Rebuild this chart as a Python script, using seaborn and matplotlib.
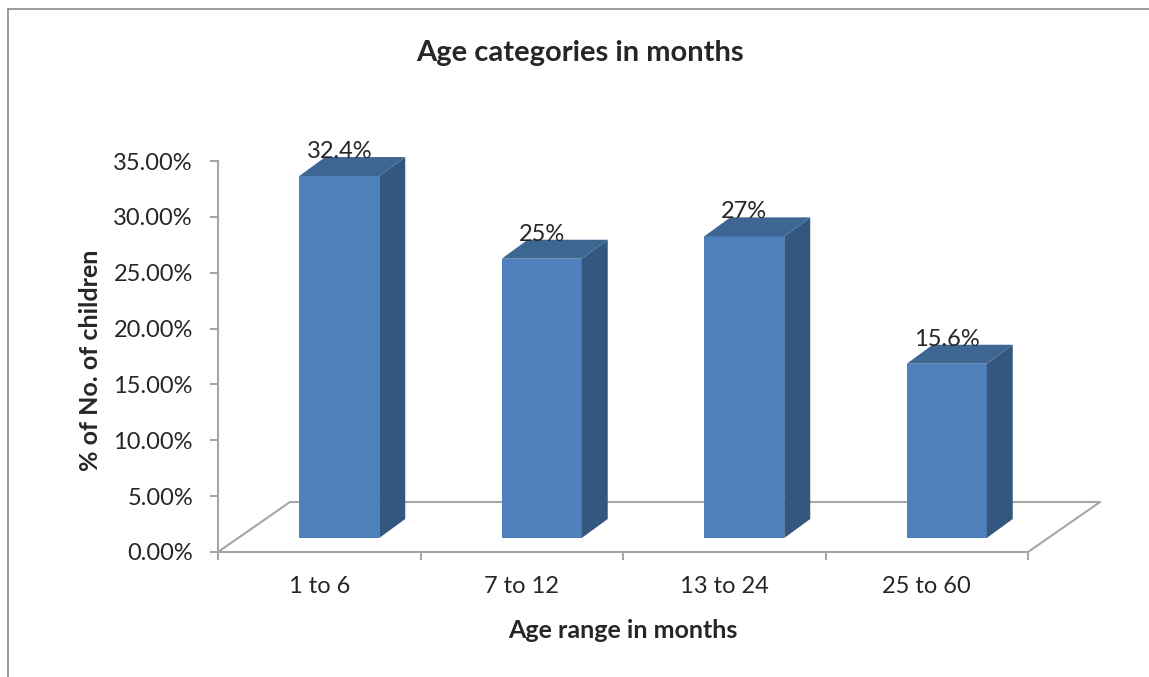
import numpy as np
import pandas as pd
import seaborn as sns
import matplotlib.pyplot as plt
from matplotlib.patches import Polygon
from matplotlib.lines import Line2D
from matplotlib.transforms import IdentityTransform

# data
age_ranges = ["1 to 6", "7 to 12", "13 to 24", "25 to 60"]
pct_children = [32.4, 25.0, 27.0, 15.6]
bar_labels = ["32.4%", "25%", "27%", "15.6%"]
y_ticks = [0, 5, 10, 15, 20, 25, 30, 35]

df = pd.DataFrame({"age": age_ranges, "pct": pct_children})

sns.set_style("white")
plt.rcParams["font.family"] = ["Lato", "DejaVu Sans"]

W, H = 1149, 677
fig = plt.figure(figsize=(W / 100, H / 100), dpi=100)

# main axes (floor, ticks), pixel box 218..1028 x 161..552
left, right, top, bottom = 218, 1028, 161, 552
ax = fig.add_axes([left / W, 1 - bottom / H, (right - left) / W, (bottom - top) / H])
ax.set_xlim(-0.5, 3.5)
ax.set_ylim(0, 35)
for s in ["top", "right"]:
    ax.spines[s].set_visible(False)
grey = "#a6a6a6"
ax.spines["left"].set_color(grey)
ax.spines["bottom"].set_color(grey)
ax.spines["left"].set_linewidth(1.5)
ax.spines["bottom"].set_linewidth(1.5)
ax.set_yticks(y_ticks)
ax.set_yticklabels([f"{t:.2f}%" for t in y_ticks])
ax.set_xticks(range(len(age_ranges)))
ax.set_xticklabels(age_ranges)
ax.set_xticks(np.arange(-0.5, 4, 1), minor=True)
ax.tick_params(axis="y", length=6, width=1.5, color=grey, pad=12, labelsize=17, left=True)
ax.tick_params(axis="x", which="major", length=0, pad=17, labelsize=17)
ax.tick_params(axis="x", which="minor", length=6, width=1.5, color=grey, bottom=True)
ax.patch.set_alpha(0)

# floor depth offset (pixels)
fdx, fdy = 72, 50
fl = ax.transData.transform([(-0.5, 0), (3.5, 0)])
floor = [(fl[0][0], fl[0][1]), (fl[0][0] + fdx, fl[0][1] + fdy),
         (fl[1][0] + fdx, fl[1][1] + fdy), (fl[1][0], fl[1][1])]
ax.add_line(Line2D([p[0] for p in floor], [p[1] for p in floor], color=grey,
                   lw=1.5, transform=IdentityTransform(), clip_on=False))

# bars axes, shifted into the depth of the floor
bdx, bdy = 20, 14
ax2 = fig.add_axes([(left + bdx) / W, 1 - (bottom - bdy) / H, (right - left) / W, (bottom - top) / H])
sns.barplot(data=df, x="age", y="pct", ax=ax2, color="#4F81BD", width=0.395,
            saturation=1, edgecolor="none", linewidth=0)
ax2.set_xlim(-0.5, 3.5)
ax2.set_ylim(0, 35)
ax2.axis("off")
ax2.patch.set_alpha(0)

sdx, sdy = 26, 19
for p, lab in zip(ax2.patches, bar_labels):
    x0, y0 = p.get_x(), p.get_y()
    x1, y1 = x0 + p.get_width(), y0 + p.get_height()
    (px0, py0), (px1, py1) = ax2.transData.transform([(x0, y0), (x1, y1)])
    side = [(px1, py0), (px1 + sdx, py0 + sdy), (px1 + sdx, py1 + sdy), (px1, py1)]
    topf = [(px0, py1), (px0 + sdx, py1 + sdy), (px1 + sdx, py1 + sdy), (px1, py1)]
    ax2.add_patch(Polygon(side, closed=True, fc="#34577F", ec="none",
                          transform=IdentityTransform(), clip_on=False))
    ax2.add_patch(Polygon(topf, closed=True, fc="#3E6693", ec="none",
                          transform=IdentityTransform(), clip_on=False))
    ax2.annotate(lab, (x0 + p.get_width() / 2, y1), xytext=(0, 14),
                 textcoords="offset pixels", ha="center", va="bottom",
                 fontsize=17, annotation_clip=False)

ax.set_xlabel("")
ax.set_ylabel("")
fig.text(580 / W, 1 - 53 / H, "Age categories in months", ha="center", va="center",
         fontsize=21, fontweight="bold")
fig.text(90 / W, 1 - 360 / H, "% of No. of children", ha="center", va="center",
         rotation=90, fontsize=18, fontweight="bold")
fig.text(623 / W, 1 - 630 / H, "Age range in months", ha="center", va="center",
         fontsize=18, fontweight="bold")

# chart frame
frame = "#8c8c8c"
fig.add_artist(Line2D([8 / W, 8 / W], [0, 1 - 9 / H], color=frame, lw=1.2))
fig.add_artist(Line2D([8 / W, 1], [1 - 9 / H, 1 - 9 / H], color=frame, lw=1.2))

fig.savefig("out.png", dpi=100)
